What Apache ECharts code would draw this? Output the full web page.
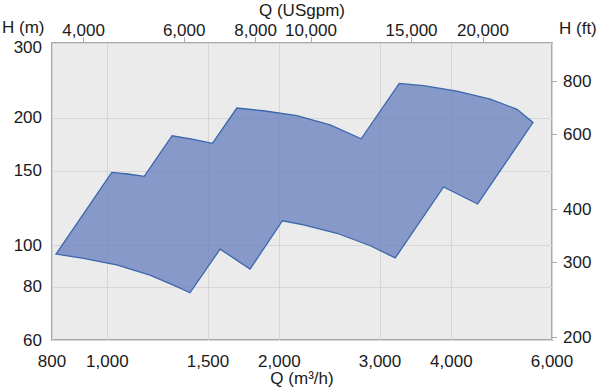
<!DOCTYPE html>
<html><head><meta charset="utf-8">
<script src="https://cdn.jsdelivr.net/npm/echarts@6/dist/echarts.min.js"></script>
<style>html,body{margin:0;padding:0;background:#fff}#c{width:600px;height:388px}</style>
</head><body><div id="c"></div>
<script>
// Tick labels
const qTicks = [800, 1000, 1500, 2000, 3000, 4000, 6000];      // m3/h
const hTicks = [60, 80, 100, 150, 200, 300];                   // m
const gpmTicks = [4000, 6000, 8000, 10000, 15000, 20000];      // USgpm
const ftTicks = [200, 300, 400, 600, 800];                     // ft
const qRange = [800, 6000];
const hRange = [60, 300];
const M3H_TO_GPM = 4.402868;
const M_TO_FT = 3.28084;
const axisNames = { q: 'Q (m³/h)', gpm: 'Q (USgpm)', h: 'H (m)', ft: 'H (ft)' };

// Envelope outline (Q m3/h, H m), clockwise from left
const envelopeQ = [813, 1018, 1087, 1160, 1298, 1407, 1527, 1685, 1875, 2146, 2454, 2781,
  3242, 3576, 4090, 4678, 5211, 5558, 4446, 3876, 3190, 2885, 2521, 2204, 2025,
  1777, 1575, 1395, 1323, 1187, 1038, 908];
const envelopeH = [95.6, 148.8, 147.5, 145.7, 181.5, 178.3, 174.2, 210.9, 207.8, 202.3, 192.4, 178.5,
  241, 238.0, 231.2, 221.4, 209.4, 195, 125.4, 137.5, 93.6, 100.0, 107.0, 111.9, 114.5,
  88.1, 98.2, 77.5, 80.1, 85.3, 90.1, 93.4];

const fmt = v => Math.round(v).toLocaleString('en-US');
const FONT = 'Liberation Sans';
const TXT = '#1a1a1a';
const labelStyle = { color: TXT, fontSize: 17, fontFamily: FONT };
const nameText = (text, x, y, align) => ({
  type: 'text', x: x, y: y, silent: true,
  style: { text: text, fill: TXT, font: '17px "' + FONT + '"', align: align, verticalAlign: 'middle' }
});

const chart = echarts.init(document.getElementById('c'), null, { renderer: 'svg' });
chart.setOption({
  animation: false,
  backgroundColor: '#ffffff',
  grid: { left: 52, right: 48, top: 43, bottom: 48, containLabel: false, outerBoundsMode: 'none',
    show: true, backgroundColor: '#ebebeb', borderColor: '#a9a9a9', borderWidth: 2 },
  graphic: [
    nameText(axisNames.gpm, 302, 10, 'center'),
    nameText(axisNames.q, 302, 378, 'center'),
    nameText(axisNames.h, 2, 27, 'left'),
    nameText(axisNames.ft, 559, 28, 'left')
  ],
  xAxis: [
    {
      type: 'log', position: 'bottom', min: qRange[0], max: qRange[1],
      axisLine: { show: false }, axisTick: { show: false, customValues: qTicks },
      axisLabel: Object.assign({ customValues: qTicks, formatter: fmt, margin: 13 }, labelStyle),
      splitLine: { show: true, lineStyle: { color: '#d6d6d6', width: 1 } },
      minorSplitLine: { show: false }
    },
    {
      type: 'log', position: 'top', min: qRange[0] * M3H_TO_GPM, max: qRange[1] * M3H_TO_GPM,
      axisLine: { show: false },
      axisTick: { show: true, inside: false, length: 6, customValues: gpmTicks, lineStyle: { color: '#a9a9a9' } },
      axisLabel: Object.assign({ customValues: gpmTicks, formatter: fmt, margin: 4 }, labelStyle),
      splitLine: { show: false }
    }
  ],
  yAxis: [
    {
      type: 'log', position: 'left', min: hRange[0], max: hRange[1],
      axisLine: { show: false }, axisTick: { show: false, customValues: hTicks },
      axisLabel: Object.assign({
        customValues: hTicks, margin: 10,
        formatter: v => (Math.round(v) === hRange[1] ? '{top|' + fmt(v) + '}' : fmt(v)),
        rich: { top: { padding: [9, 0, 0, 0], color: TXT, fontSize: 17, fontFamily: FONT } }
      }, labelStyle),
      splitLine: { show: true, lineStyle: { color: '#d6d6d6', width: 1 } }
    },
    {
      type: 'log', position: 'right', min: hRange[0] * M_TO_FT, max: hRange[1] * M_TO_FT,
      axisLine: { show: false },
      axisTick: { show: true, inside: false, length: 5, customValues: ftTicks, lineStyle: { color: '#a9a9a9' } },
      axisLabel: Object.assign({ customValues: ftTicks, formatter: fmt, margin: 11 }, labelStyle),
      splitLine: { show: false }
    }
  ],
  series: [{
    type: 'custom',
    xAxisIndex: 0, yAxisIndex: 0,
    data: envelopeQ.map((q, i) => [q, envelopeH[i]]),
    renderItem: function (params, api) {
      if (params.dataIndex !== 0) return null;
      const pts = envelopeQ.map((q, i) => api.coord([q, envelopeH[i]]));
      return {
        type: 'polygon',
        shape: { points: pts },
        style: { fill: 'rgba(100,126,188,0.75)', stroke: '#3a67ad', lineWidth: 1.3 }
      };
    }
  }]
});
</script></body></html>
